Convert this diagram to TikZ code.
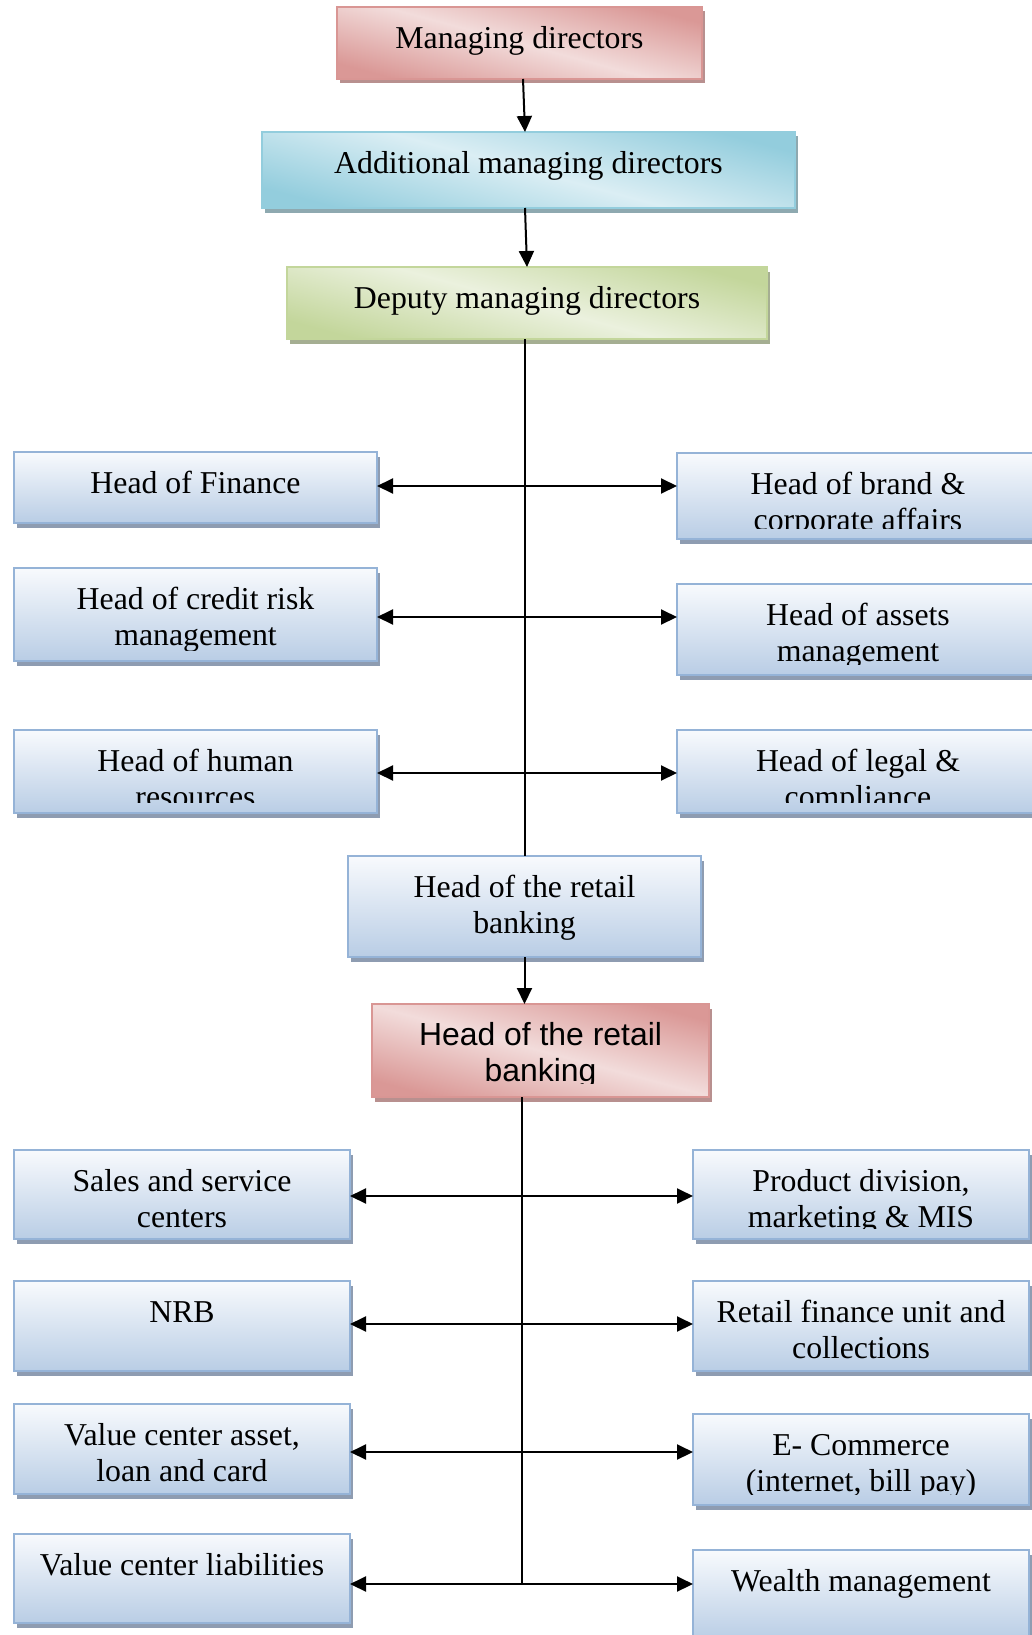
\documentclass[tikz,border=0pt]{standalone}
\usepackage{fontspec}
\setmainfont{Liberation Serif}
\newfontfamily\arialf{Liberation Sans}
\usetikzlibrary{arrows.meta,calc}
\definecolor{bluetop}{HTML}{F8FAFD}
\definecolor{bluebot}{HTML}{B9CDE5}
\definecolor{blueborder}{HTML}{95B3D7}
\definecolor{blueshadow}{HTML}{8E9CB1}
\definecolor{redD}{HTML}{DA9896}
\definecolor{redL}{HTML}{F2DCDB}
\definecolor{redB}{HTML}{D99694}
\definecolor{redshadow}{HTML}{B8908F}
\definecolor{cyanD}{HTML}{93CDDD}
\definecolor{cyanL}{HTML}{DBEEF4}
\definecolor{cyanB}{HTML}{93CDDD}
\definecolor{cyanshadow}{HTML}{8EA9B0}
\definecolor{greenD}{HTML}{C3D69B}
\definecolor{greenL}{HTML}{EBF1DE}
\definecolor{greenB}{HTML}{C3D69B}
\definecolor{greenshadow}{HTML}{A5AE92}
\newcommand{\fTimes}{\fontsize{31.8}{36.5}\selectfont}
\newcommand{\fArial}{\arialf\fontsize{31.9}{36.5}\selectfont}
\def\cinset{11}
\def\toff{15.9}
\tikzset{
  boxblue/.style={top color=bluetop,bottom color=bluebot,draw=blueborder,line width=2.2pt},
  boxred/.style={top color=redD,bottom color=redD,middle color=redL,shading angle=-15,draw=redB,line width=2.2pt},
  boxcyan/.style={top color=cyanD,bottom color=cyanD,middle color=cyanL,shading angle=-15,draw=cyanB,line width=2.2pt},
  boxgreen/.style={top color=greenD,bottom color=greenD,middle color=greenL,shading angle=-15,draw=greenB,line width=2.2pt},
  txt/.style={inner sep=0pt,outer sep=0pt,align=center,text=black},
  arr/.style={line width=2pt,-{Triangle[length=16pt,width=15pt]}},
  arrb/.style={line width=2pt,{Triangle[length=16pt,width=15pt]}-{Triangle[length=16pt,width=15pt]}},
  ln/.style={line width=2pt},
}
\newcommand{\obox}[9]{%
  \fill[#7] (#2+3,#3+4.5) rectangle (#4+3,#5+4.5);
  \node[#6,inner sep=0pt,outer sep=0pt,minimum width=#4pt-#2pt,minimum height=#5pt-#3pt,anchor=north west] (#1) at (#2,#3) {};
  \begin{scope}
    \clip (#2,#3) rectangle (#4,#5-\cinset);
    \node[txt,font=#8,anchor=north] (#1-t) at ($(#1.north)+(0,\toff)$) {\strut #9};
  \end{scope}}
\begin{document}
\begin{tikzpicture}[x=1pt,y=-1pt]
\clip (0,0) rectangle (1032,1635);
\fill[white] (0,0) rectangle (1032,1635);
% top chain
\obox{md}{337}{7}{702}{79}{boxred}{redshadow}{\fTimes}{Managing directors}
\obox{amd}{262}{132}{795}{208}{boxcyan}{cyanshadow}{\fTimes}{Additional managing directors}
\obox{dmd}{287}{267}{767}{339}{boxgreen}{greenshadow}{\fTimes}{Deputy managing directors}
% upper heads
\obox{fin}{14}{452}{377}{523}{boxblue}{blueshadow}{\fTimes}{Head of Finance}
\obox{cred}{14}{568}{377}{661}{boxblue}{blueshadow}{\fTimes}{Head of credit risk\\management}
\obox{hr}{14}{730}{377}{813}{boxblue}{blueshadow}{\fTimes}{Head of human\\resources}
\obox{brand}{677}{453}{1039}{539}{boxblue}{blueshadow}{\fTimes}{Head of brand \&\\corporate affairs}
\obox{assets}{677}{584}{1039}{675}{boxblue}{blueshadow}{\fTimes}{Head of assets\\management}
\obox{legal}{677}{730}{1039}{813}{boxblue}{blueshadow}{\fTimes}{Head of legal \&\\compliance}
% retail heads
\obox{hrb}{348}{856}{701}{957}{boxblue}{blueshadow}{\fTimes}{Head of the retail\\banking}
\def\cinset{14}
\obox{hrr}{372}{1004}{709}{1097}{boxred}{redshadow}{\fArial}{Head of the retail\\banking}
\def\cinset{11}
% lower units
\obox{sales}{14}{1150}{350}{1239}{boxblue}{blueshadow}{\fTimes}{Sales and service\\centers}
\obox{nrb}{14}{1281}{350}{1371}{boxblue}{blueshadow}{\fTimes}{NRB}
\obox{vca}{14}{1404}{350}{1494}{boxblue}{blueshadow}{\fTimes}{Value center asset,\\loan and card}
\obox{vcl}{14}{1534}{350}{1623}{boxblue}{blueshadow}{\fTimes}{Value center liabilities}
\obox{prod}{693}{1150}{1029}{1239}{boxblue}{blueshadow}{\fTimes}{Product division,\\marketing \& MIS}
\obox{rfin}{693}{1281}{1029}{1371}{boxblue}{blueshadow}{\fTimes}{Retail finance unit and\\collections}
\obox{ecom}{693}{1414}{1029}{1505}{boxblue}{blueshadow}{\fTimes}{E- Commerce\\(internet, bill pay)}
\obox{wealth}{693}{1550}{1029}{1640}{boxblue}{blueshadow}{\fTimes}{Wealth management}
% row coordinates
\coordinate (r1) at (525,486);
\coordinate (r2) at (525,617);
\coordinate (r3) at (525,773);
\coordinate (s1) at (522,1196);
\coordinate (s2) at (522,1324);
\coordinate (s3) at (522,1452);
\coordinate (s4) at (522,1584);
% connectors
\draw[arr] ([xshift=3.5pt]md.south) -- ([xshift=-3.5pt]amd.north);
\draw[arr] ([xshift=-3.5pt]amd.south) -- (dmd.north);
\draw[ln] (dmd.south -| r1) -- (hrb.north -| r1);
\draw[arrb] (fin.east |- r1) -- (brand.west |- r1);
\draw[arrb] (cred.east |- r2) -- (assets.west |- r2);
\draw[arrb] (hr.east |- r3) -- (legal.west |- r3);
\draw[arr] (hrb.south) -- (hrb.south |- hrr.north);
\draw[ln] (hrr.south -| s4) -- (s4);
\draw[arrb] (sales.east |- s1) -- (prod.west |- s1);
\draw[arrb] (nrb.east |- s2) -- (rfin.west |- s2);
\draw[arrb] (vca.east |- s3) -- (ecom.west |- s3);
\draw[arrb] (vcl.east |- s4) -- (wealth.west |- s4);
\end{tikzpicture}
\end{document}
